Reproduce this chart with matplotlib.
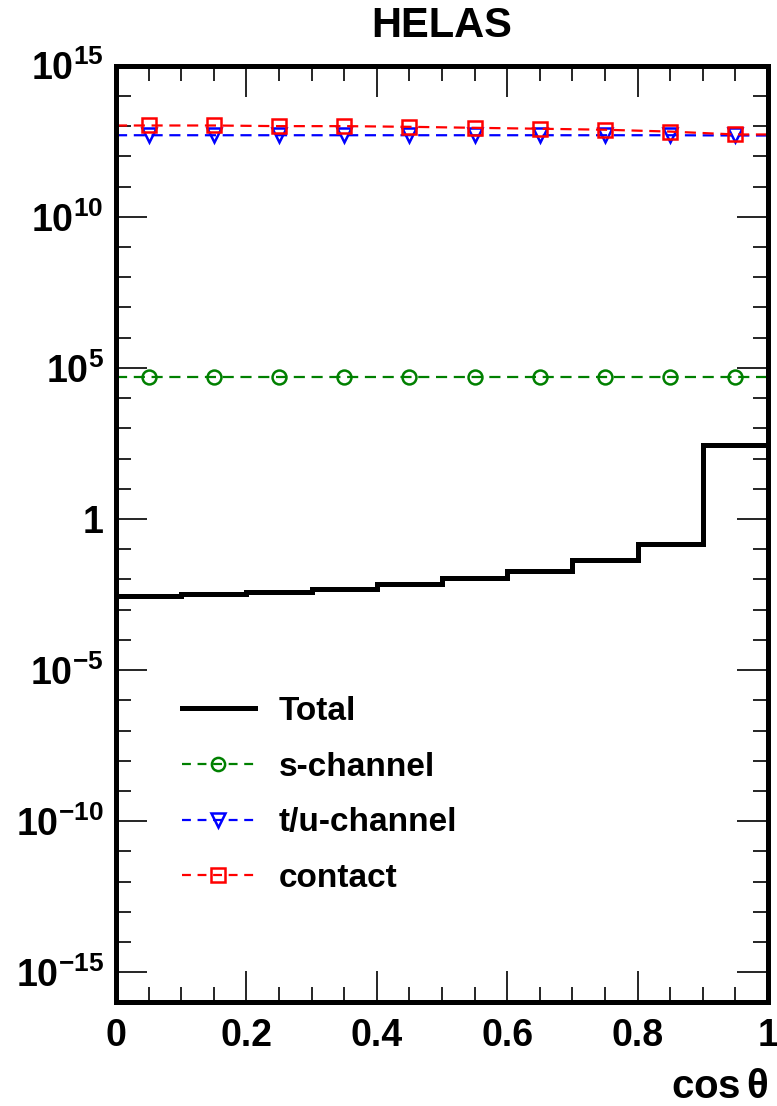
import numpy as np
import matplotlib
matplotlib.use("Agg")
import matplotlib.pyplot as plt
from matplotlib.ticker import FixedLocator, FuncFormatter, MultipleLocator

plt.rcParams['font.family'] = ['Liberation Sans', 'DejaVu Sans']
plt.rcParams['font.weight'] = 'bold'
plt.rcParams['mathtext.fontset'] = 'custom'
plt.rcParams['mathtext.rm'] = 'Liberation Sans:bold'
plt.rcParams['mathtext.bf'] = 'Liberation Sans:bold'
plt.rcParams['mathtext.it'] = 'Liberation Sans:bold'
plt.rcParams['mathtext.default'] = 'rm'

# ── data ─────────────────────────────────────────
edges = np.linspace(0, 1, 11)
centers = [0.05, 0.15, 0.25, 0.35, 0.45, 0.55, 0.65, 0.75, 0.85, 0.95]
total = [2.9e-3, 3.2e-3, 3.7e-3, 4.9e-3, 7.0e-3, 1.08e-2, 1.95e-2, 4.4e-2, 0.148, 275]
s_channel = [5.1e4, 5.1e4, 5.1e4, 5.1e4, 5.1e4, 5.1e4, 5.1e4, 5.1e4, 5.1e4, 5.1e4]
tu_channel = [5.0e12, 5.0e12, 5.0e12, 5.0e12, 5.0e12, 5.0e12, 5.0e12, 5.0e12, 5.0e12, 4.9e12]
contact = [1.05e13, 1.05e13, 1.0e13, 1.0e13, 9.5e12, 8.8e12, 8.2e12, 7.6e12, 6.6e12, 5.3e12]

fig = plt.figure(figsize=(7.77, 11.06), dpi=100)
ax = fig.add_axes([0.1493, 0.0936, 0.839, 0.847])

ax.stairs(total, edges, color='black', lw=3.6, baseline=None, label='Total')


def curve(vals, color, marker, label):
    # dashed line running edge to edge, open markers at the bin centres
    xl = np.r_[0, centers, 1]
    yl = np.r_[vals[0], vals, vals[-1]]
    ax.plot(xl, yl, color=color, lw=1.6, dashes=(5, 3))
    ax.plot(centers, vals, ls='none', marker=marker, ms=10, mfc='none',
            mec=color, mew=1.8)
    # proxy for legend
    ax.plot([], [], color=color, lw=1.6, dashes=(4, 3), marker=marker,
            ms=9.5, mfc='none', mec=color, mew=1.8, label=label)


curve(s_channel, 'green', 'o', 's-channel')
curve(tu_channel, 'blue', 'v', 't/u-channel')
curve(contact, 'red', 's', 'contact')

ax.set_yscale('log')
ax.set_xlim(0, 1)
ax.set_ylim(1e-16, 1e15)

major_exp = [-15, -10, -5, 0, 5, 10, 15]
ax.yaxis.set_major_locator(FixedLocator([10.0 ** e for e in major_exp]))
ax.yaxis.set_minor_locator(FixedLocator([10.0 ** e for e in range(-16, 16)]))


def ylab(v, pos):
    e = int(round(np.log10(v)))
    if e == 0:
        return '1'
    return r'$10^{%d}$' % e


ax.yaxis.set_major_formatter(FuncFormatter(ylab))
ax.yaxis.set_minor_formatter(FuncFormatter(lambda v, p: ''))
ax.xaxis.set_major_locator(MultipleLocator(0.2))
ax.xaxis.set_minor_locator(MultipleLocator(0.05))
ax.xaxis.set_major_formatter(FuncFormatter(lambda v, p: '%g' % round(v, 1)))

ax.tick_params(which='both', direction='in', top=True, right=True,
               labelsize=27, width=1.2)
ax.tick_params(which='major', length=22, pad=11)
ax.tick_params(which='minor', length=11)
ax.tick_params(axis='y', pad=9)
for sp in ax.spines.values():
    sp.set_linewidth(3.6)

ax.set_title('HELAS', fontsize=30, fontweight='bold', pad=21)
ax.set_xlabel(r'cos$\,\theta$', fontsize=29, fontweight='bold', loc='right',
              labelpad=10)

leg = ax.legend(loc='upper left', bbox_to_anchor=(0.075, 0.345), frameon=False,
                fontsize=24, handlelength=2.19, handletextpad=0.72,
                labelspacing=0.74, borderpad=0, numpoints=1)

plt.savefig('out.png', dpi=100)
